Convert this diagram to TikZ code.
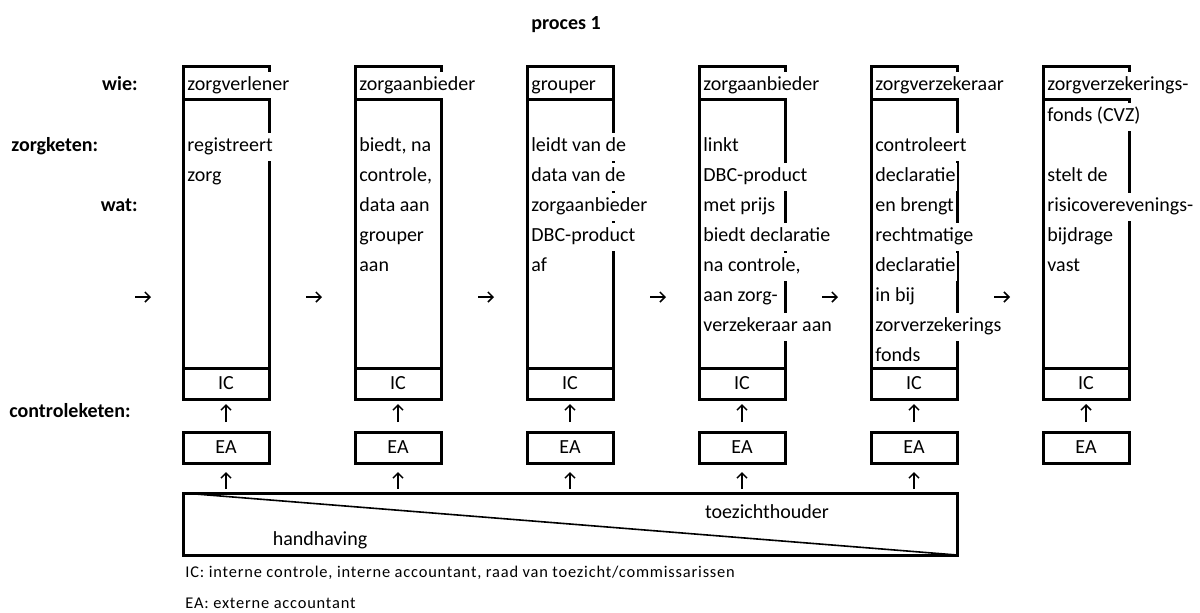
\documentclass[tikz,border=0pt]{standalone}
\usepackage{fontspec}
\setmainfont{Carlito}
\usetikzlibrary{arrows.meta}

\tikzset{
  vak/.style={draw, line width=1.5pt, inner sep=0pt, outer sep=0pt, anchor=north west,
    minimum width=43pt, font=\fontsize{10}{12}\selectfont},
  regel/.style={anchor=west, fill=white, inner sep=0.5pt, text height=8.5pt, text depth=4.5pt,
    font=\fontsize{10}{12}\selectfont},
  kopje/.style={inner sep=0.5pt, text height=8.5pt, text depth=4.5pt,
    font=\fontsize{10}{12}\selectfont\bfseries},
  tekst/.style={inner sep=0.5pt, font=\fontsize{10}{12}\selectfont},
  legenda/.style={anchor=west, inner sep=0pt,
    font=\fontsize{8.2}{10}\selectfont\addfontfeatures{LetterSpace=5}},
  pijl/.style={-{Straight Barb[length=2.5pt,width=5pt]}, line width=0.75pt},
}

\begin{document}
\begin{tikzpicture}[x=0.5pt, y=-0.5pt]
    \useasboundingbox (0,0) rectangle (1200,612);

    % Titel en rij-labels
    \node[kopje] (titel) at (566,25) {proces 1};
    \node[kopje, anchor=east] (wie) at (139,86) {wie:};
    \node[kopje, anchor=west] (zorgketen) at (10,147) {zorgketen:};
    \node[kopje, anchor=east] (wat) at (139,207) {wat:};
    \node[kopje, anchor=west] (controleketen) at (8,413) {controleketen:};

    % Kolom 1: zorgverlener
    \node[vak, minimum height=16.5pt] (kop1) at (183,66) {};
    \node[regel] (wie1) at (186,86) {zorgverlener};
    \node[vak, minimum height=134.5pt] (kol1) at (183,99) {};
    \node[regel] (wat1a) at (186,147) {registreert};
    \node[regel] (wat1b) at (186,177) {zorg};
    \node[vak, minimum height=15.5pt] (ic1) at (183,368) {IC};
    \node[vak, minimum height=15.5pt] (ea1) at (183,432) {EA};

    % Kolom 2: zorgaanbieder
    \node[vak, minimum height=16.5pt] (kop2) at (355,66) {};
    \node[regel] (wie2) at (358,86) {zorgaanbieder};
    \node[vak, minimum height=134.5pt] (kol2) at (355,99) {};
    \node[regel] (wat2a) at (358,147) {biedt, na};
    \node[regel] (wat2b) at (358,177) {controle,};
    \node[regel] (wat2c) at (358,207) {data aan};
    \node[regel] (wat2d) at (358,237) {grouper};
    \node[regel] (wat2e) at (358,267) {aan};
    \node[vak, minimum height=15.5pt] (ic2) at (355,368) {IC};
    \node[vak, minimum height=15.5pt] (ea2) at (355,432) {EA};

    % Kolom 3: grouper
    \node[vak, minimum height=16.5pt] (kop3) at (527,66) {};
    \node[regel] (wie3) at (530,86) {grouper};
    \node[vak, minimum height=134.5pt] (kol3) at (527,99) {};
    \node[regel] (wat3a) at (530,147) {leidt van de};
    \node[regel] (wat3b) at (530,177) {data van de};
    \node[regel] (wat3c) at (530,207) {zorgaanbieder};
    \node[regel] (wat3d) at (530,237) {DBC-product};
    \node[regel] (wat3e) at (530,267) {af};
    \node[vak, minimum height=15.5pt] (ic3) at (527,368) {IC};
    \node[vak, minimum height=15.5pt] (ea3) at (527,432) {EA};

    % Kolom 4: zorgaanbieder
    \node[vak, minimum height=16.5pt] (kop4) at (699,66) {};
    \node[regel] (wie4) at (702,86) {zorgaanbieder};
    \node[vak, minimum height=134.5pt] (kol4) at (699,99) {};
    \node[regel] (wat4a) at (702,147) {linkt};
    \node[regel] (wat4b) at (702,177) {DBC-product};
    \node[regel] (wat4c) at (702,207) {met prijs};
    \node[regel] (wat4d) at (702,237) {biedt declaratie};
    \node[regel] (wat4e) at (702,267) {na controle,};
    \node[regel] (wat4f) at (702,297) {aan zorg-};
    \node[regel] (wat4g) at (702,327) {verzekeraar aan};
    \node[vak, minimum height=15.5pt] (ic4) at (699,368) {IC};
    \node[vak, minimum height=15.5pt] (ea4) at (699,432) {EA};

    % Kolom 5: zorgverzekeraar
    \node[vak, minimum height=16.5pt] (kop5) at (871,66) {};
    \node[regel] (wie5) at (874,86) {zorgverzekeraar};
    \node[vak, minimum height=134.5pt] (kol5) at (871,99) {};
    \node[regel] (wat5a) at (874,147) {controleert};
    \node[regel] (wat5b) at (874,177) {declaratie};
    \node[regel] (wat5c) at (874,207) {en brengt};
    \node[regel] (wat5d) at (874,237) {rechtmatige};
    \node[regel] (wat5e) at (874,267) {declaratie};
    \node[regel] (wat5f) at (874,297) {in bij};
    \node[regel] (wat5g) at (874,327) {zorverzekerings};
    \node[regel] (wat5h) at (874,357) {fonds};
    \node[vak, minimum height=15.5pt] (ic5) at (871,368) {IC};
    \node[vak, minimum height=15.5pt] (ea5) at (871,432) {EA};

    % Kolom 6: zorgverzekeringsfonds
    \node[vak, minimum height=16.5pt] (kop6) at (1043,66) {};
    \node[regel] (wie6) at (1046,86) {zorgverzekerings-};
    \node[vak, minimum height=134.5pt] (kol6) at (1043,99) {};
    \node[regel] (wie6b) at (1046,117) {fonds (CVZ)};
    \node[regel] (wat6a) at (1046,177) {stelt de};
    \node[regel] (wat6b) at (1046,207) {risicoverevenings-};
    \node[regel] (wat6c) at (1046,237) {bijdrage};
    \node[regel] (wat6d) at (1046,267) {vast};
    \node[vak, minimum height=15.5pt] (ic6) at (1043,368) {IC};
    \node[vak, minimum height=15.5pt] (ea6) at (1043,432) {EA};

    % Toezichthouder en handhaving
    \node[vak, minimum width=387pt, minimum height=31pt] (toez) at (183,493) {};
    \draw[line width=0.8pt] (toez.north west) -- (toez.south east);
    \node[tekst] (toezichthouder) at (767,512) {toezichthouder};
    \node[tekst] (handhaving) at (320,540) {handhaving};

    % Pijlen in de zorgketen
    \coordinate (instroom) at (135,297);
    \draw[pijl, shorten >=16pt] (instroom) -- (kol1.west |- instroom);
    \draw[pijl, shorten <=18.5pt, shorten >=16.5pt] (kol1.east |- instroom) -- (kol2.west |- instroom);
    \draw[pijl, shorten <=18.5pt, shorten >=16.5pt] (kol2.east |- instroom) -- (kol3.west |- instroom);
    \draw[pijl, shorten <=18.5pt, shorten >=16.5pt] (kol3.east |- instroom) -- (kol4.west |- instroom);
    \draw[pijl, shorten <=18.5pt, shorten >=16.5pt] (kol4.east |- instroom) -- (kol5.west |- instroom);
    \draw[pijl, shorten <=18.5pt, shorten >=16.5pt] (kol5.east |- instroom) -- (kol6.west |- instroom);

    % Pijlen in de controleketen
    \draw[pijl, shorten <=5pt, shorten >=2.5pt] (ea1.north) -- (ic1.south);
    \draw[pijl, shorten <=5pt, shorten >=2.5pt] (ea2.north) -- (ic2.south);
    \draw[pijl, shorten <=5pt, shorten >=2.5pt] (ea3.north) -- (ic3.south);
    \draw[pijl, shorten <=5pt, shorten >=2.5pt] (ea4.north) -- (ic4.south);
    \draw[pijl, shorten <=5pt, shorten >=2.5pt] (ea5.north) -- (ic5.south);
    \draw[pijl, shorten <=5pt, shorten >=2.5pt] (ea6.north) -- (ic6.south);
    \draw[pijl, shorten <=2pt, shorten >=4.5pt] (toez.north -| ea1.south) -- (ea1.south);
    \draw[pijl, shorten <=2pt, shorten >=4.5pt] (toez.north -| ea2.south) -- (ea2.south);
    \draw[pijl, shorten <=2pt, shorten >=4.5pt] (toez.north -| ea3.south) -- (ea3.south);
    \draw[pijl, shorten <=2pt, shorten >=4.5pt] (toez.north -| ea4.south) -- (ea4.south);
    \draw[pijl, shorten <=2pt, shorten >=4.5pt] (toez.north -| ea5.south) -- (ea5.south);

    % Legenda
    \node[legenda] (legIC) at (185,573) {IC: interne controle, interne accountant, raad van toezicht/commissarissen};
    \node[legenda] (legEA) at (185,603) {EA: externe accountant};
\end{tikzpicture}
\end{document}
